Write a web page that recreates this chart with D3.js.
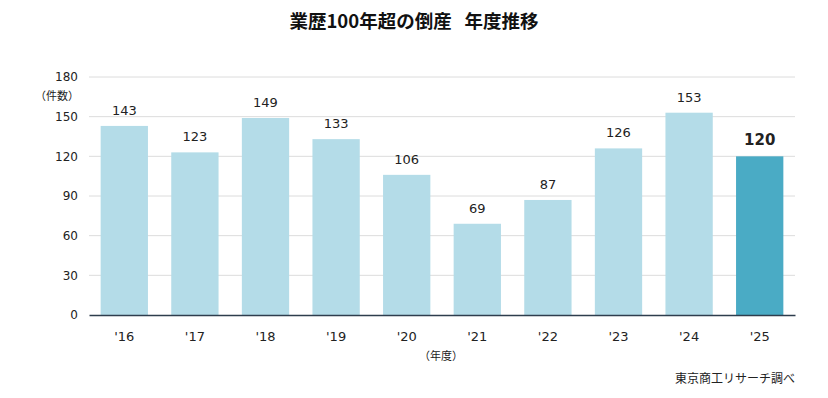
<!DOCTYPE html>
<html>
<head>
<meta charset="utf-8">
<script src="https://cdn.jsdelivr.net/npm/d3@7"></script>
<style>
  body { margin: 0; background: #fff; }
  svg { display: block; font-family: "DejaVu Sans", "Noto Sans CJK JP", sans-serif; }
</style>
</head>
<body>
<div id="chart"></div>
<script>
const years = ["'16", "'17", "'18", "'19", "'20", "'21", "'22", "'23", "'24", "'25"];
const counts = [143, 123, 149, 133, 106, 69, 87, 126, 153, 120];
const yTicks = [0, 30, 60, 90, 120, 150, 180];

const width = 828, height = 398;
const margin = {top: 77, right: 33, bottom: 83, left: 89};
const innerW = width - margin.left - margin.right;
const innerH = height - margin.top - margin.bottom;

const svg = d3.select("#chart").append("svg")
  .attr("width", width)
  .attr("height", height);

svg.append("text")
  .attr("x", width / 2)
  .attr("y", 28)
  .attr("text-anchor", "middle")
  .attr("font-family", "Noto Sans CJK JP")
  .attr("font-weight", "bold")
  .attr("font-size", "18.5px")
  .attr("fill", "#111")
  .text("業歴100年超の倒産\u2002\u2009年度推移");

const g = svg.append("g").attr("transform", `translate(${margin.left},${margin.top})`);

const x = d3.scaleBand().domain(years).range([0, innerW]).paddingInner(0.33).paddingOuter(0.165);
const y = d3.scaleLinear().domain([0, 180]).range([innerH, 0]);

// grid
g.append("g")
  .selectAll("line")
  .data(yTicks.filter(d => d > 0))
  .join("line")
  .attr("x1", 0).attr("x2", innerW)
  .attr("y1", d => y(d)).attr("y2", d => y(d))
  .attr("stroke", "#dcdcdc")
  .attr("stroke-width", 1);

// y axis labels
const yAxis = g.append("g")
  .call(d3.axisLeft(y).tickValues(yTicks).tickSize(0).tickPadding(11));
yAxis.select(".domain").remove();
yAxis.selectAll("text")
  .attr("font-size", "12px")
  .attr("fill", "#222")
  .attr("font-family", "DejaVu Sans");

svg.append("text")
  .attr("x", 57)
  .attr("y", 100)
  .attr("text-anchor", "middle")
  .attr("font-family", "Noto Sans CJK JP")
  .attr("font-size", "11px")
  .attr("fill", "#222")
  .text("（件数）");

// bars
g.selectAll("rect.bar")
  .data(counts)
  .join("rect")
  .attr("class", "bar")
  .attr("x", (d, i) => x(years[i]))
  .attr("width", x.bandwidth())
  .attr("y", d => y(d))
  .attr("height", d => innerH - y(d))
  .attr("fill", (d, i) => i === counts.length - 1 ? "#4aabc5" : "#b4dce8");

// value labels
g.selectAll("text.val")
  .data(counts)
  .join("text")
  .attr("class", "val")
  .attr("x", (d, i) => x(years[i]) + x.bandwidth() / 2)
  .attr("y", d => y(d) - 11)
  .attr("text-anchor", "middle")
  .attr("font-size", (d, i) => i === counts.length - 1 ? "15px" : "13px")
  .attr("font-weight", (d, i) => i === counts.length - 1 ? "bold" : "normal")
  .attr("fill", "#222")
  .text(d => d);

// x axis
const xAxis = g.append("g")
  .attr("transform", `translate(0,${innerH})`)
  .call(d3.axisBottom(x).tickSize(0).tickPadding(17));
xAxis.select(".domain").attr("stroke", "#2e3d4d").attr("stroke-width", 1.5);
xAxis.selectAll("text")
  .attr("font-size", "13px")
  .attr("fill", "#222")
  .attr("font-family", "DejaVu Sans");

svg.append("text")
  .attr("x", 441)
  .attr("y", 360)
  .attr("text-anchor", "middle")
  .attr("font-family", "Noto Sans CJK JP")
  .attr("font-size", "11px")
  .attr("fill", "#222")
  .text("（年度）");

svg.append("text")
  .attr("x", 795)
  .attr("y", 383)
  .attr("text-anchor", "end")
  .attr("font-family", "Noto Sans CJK JP")
  .attr("font-size", "12px")
  .attr("fill", "#222")
  .text("東京商工リサーチ調べ");
</script>
</body>
</html>
